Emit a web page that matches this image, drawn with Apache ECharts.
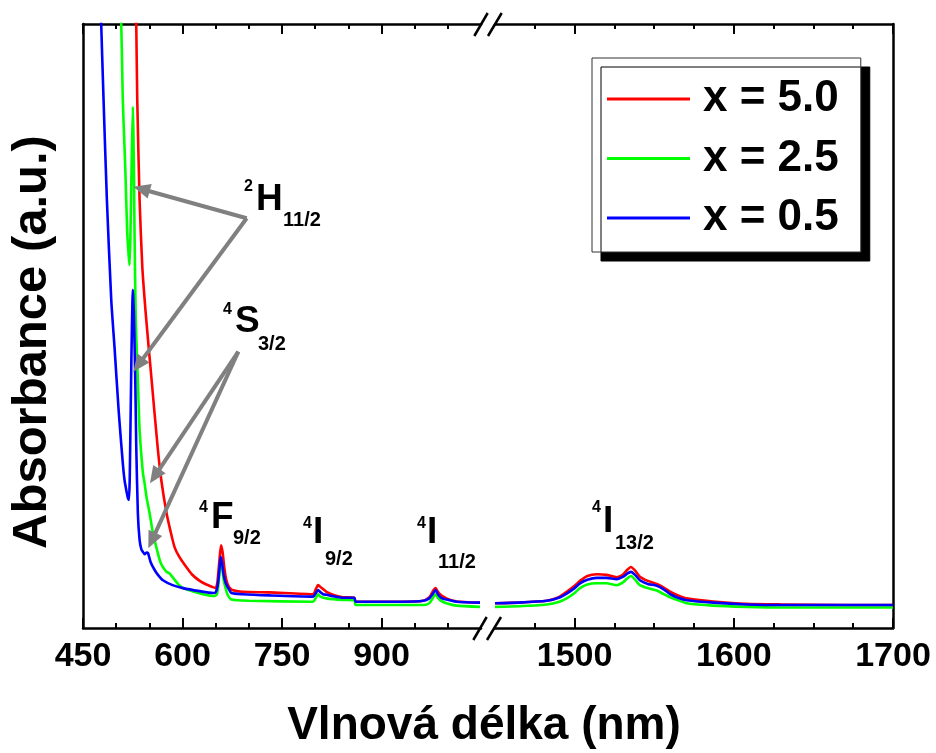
<!DOCTYPE html>
<html><head><meta charset="utf-8">
<script src="https://cdn.jsdelivr.net/npm/echarts@6/dist/echarts.min.js"></script>
<style>html,body{margin:0;padding:0;background:#fff}#c{width:936px;height:753px}</style>
</head><body><div id="c"></div>
<script>
// ---------------- DATA ----------------
const seriesNames = ['x = 5.0', 'x = 2.5', 'x = 0.5'];

// visible segment (450–1050 nm)
const redVisNm = [528,530.3,531.8,535.3,539.4,545.4,553.4,562.5,568,576,582,588,595,603,614,626,636,645,650,652.5,655.5,658,660.5,663,666,670,675,690,731.5,797,800.5,804.4,809,817,830,842,859,861,932,963,973,978,981.6,985,990,998,1013,1048.5];
const redVisAbs = [112,99.8,87.4,70.9,59.8,51.0,41.1,30.0,24.5,19.0,16.0,13.4,11.8,10.5,8.9,7.8,7.2,6.8,6.6,7.5,11.0,13.7,12.5,10.0,8.0,6.8,6.3,6.0,5.9,5.6,6.3,7.1,6.7,6.0,5.4,5.1,5.0,4.35,4.35,4.5,5.2,6.2,6.6,6.0,5.4,4.9,4.4,4.2];

const greenVisNm = [503,507.7,510,513.7,516.7,519,520.2,521.5,523.5,525.2,526,526.7,527.7,529.5,531,532.7,535.3,540.3,542.8,546,550.4,555,560.5,567,575,580.6,595.7,605.8,630.8,648.5,652,654.5,657.5,659.5,662,665,668,673.7,700,797,800.5,804.4,808,817,842,859,861,963,972,977,981.6,985,990,998,1013,1048.5];
const greenVisAbs = [110,99.8,87.4,76.3,65.4,61.5,60.1,65,78,86.3,82,76.3,65.4,51,46,41.1,32.8,25.7,24.0,21.5,19.0,16.0,13.4,10.8,9.4,9.0,7.0,6.4,5.6,5.3,5.6,7.5,11.3,10.3,8.0,6.6,5.5,4.7,4.5,4.35,4.9,5.6,5.2,4.9,4.65,4.6,3.8,3.8,4.1,4.9,5.6,5.0,4.5,4.1,3.7,3.5];

const blueVisNm = [475,477.5,481,486,492.6,497.5,504,510,512.6,516,518,519.3,520.5,523,524.5,525.2,526,526.7,528.8,530.3,532.7,535.3,538,540.3,543,545.5,548,552,558,563,570.5,585,600.6,625.8,646,650,653,655.5,657.5,659.5,662,665,669,673.7,690,731.5,797,800.5,804.4,808,812,817,830,842,859,861,932,963,972,977,981.6,985,990,998,1013,1048.5];
const blueVisAbs = [110,99.8,87.4,70.9,54.3,46.5,35.6,27.3,24.5,22.4,21.4,21.2,25,45,54,56.0,54,52.2,41.1,30.0,19.0,14.6,13.0,12.6,12.2,12.5,12.4,10.9,9.6,8.8,7.9,7.1,6.6,6.1,5.8,5.9,7.0,9.5,11.8,10.8,8.8,7.5,6.6,5.8,5.6,5.4,5.2,5.7,6.3,5.9,5.6,5.5,5.2,5.0,5.0,4.35,4.35,4.5,4.9,5.6,6.3,5.6,5.0,4.7,4.35,4.2];

// infrared segment (1450–1700 nm)
const irNm = [1450,1465,1482.5,1490,1495,1500,1503.4,1508,1513.9,1520,1526.4,1530.6,1533,1535.4,1538,1541,1546,1551.6,1556,1560,1565,1570.4,1587,1608,1630,1671,1700];
const redIrAbs   = [4.1,4.2,4.5,5.1,6.0,7.0,7.8,8.6,8.9,8.8,8.4,8.9,9.6,10.1,9.5,8.5,7.8,7.3,6.7,6.0,5.4,4.9,4.4,4.0,3.9,3.8,3.8];
const greenIrAbs = [3.5,3.6,3.9,4.3,4.9,5.8,6.6,7.2,7.4,7.4,7.1,7.6,8.2,8.6,8.0,7.1,6.6,6.2,5.6,5.1,4.6,4.1,3.7,3.5,3.4,3.4,3.4];
const blueIrAbs  = [4.1,4.2,4.5,5.0,5.7,6.6,7.4,8.0,8.3,8.3,8.1,8.5,9.0,9.3,8.8,7.9,7.3,7.0,6.4,5.6,5.0,4.6,4.2,3.9,3.8,3.8,3.8];

// ticks
const visMinorTicks = [450,500,550,600,650,700,750,800,850,900,950,1000];
const visMajorTicks = [450,600,750,900];
const irMinorTicks  = [1475,1500,1525,1550,1575,1600,1625,1650,1675,1700];
const irMajorTicks  = [1500,1600,1700];

// ---------------- STYLE ----------------
const FONT = '"Liberation Sans", Arial, Helvetica, sans-serif';
const COLORS = ['#ff0000', '#00ff00', '#0000ff'];
const AXW = 2.5;
const GREY = '#808080';

const zip = (a, b) => a.map((v, i) => [v, b[i]]);

function xAxesFor(gridIndex, min, max, minor, major) {
  const base = {gridIndex, type: 'value', min, max, splitLine: {show: false}};
  const line = {show: true, onZero: false, lineStyle: {color: '#000', width: AXW}};
  return [
    Object.assign({}, base, {position: 'bottom', axisLine: line,
      axisTick: {show: true, inside: true, length: 5, customValues: minor, lineStyle: {color: '#000', width: 2}},
      axisLabel: {show: false}}),
    Object.assign({}, base, {position: 'bottom', axisLine: {show: false, onZero: false},
      axisTick: {show: true, inside: true, length: 10, customValues: major, lineStyle: {color: '#000', width: 2}},
      axisLabel: {show: true, customValues: major, margin: 12, fontSize: 34, fontWeight: 'bold', fontFamily: FONT, color: '#000',
        formatter: v => String(v)}}),
    Object.assign({}, base, {position: 'top', axisLine: line,
      axisTick: {show: true, inside: true, length: 5, customValues: minor, lineStyle: {color: '#000', width: 2}},
      axisLabel: {show: false}}),
    Object.assign({}, base, {position: 'top', axisLine: {show: false, onZero: false},
      axisTick: {show: true, inside: true, length: 10, customValues: major, lineStyle: {color: '#000', width: 2}},
      axisLabel: {show: false}})
  ];
}

function yAxisFor(gridIndex, position) {
  return {gridIndex, type: 'value', min: 0, max: 100, position,
    axisLine: {show: true, onZero: false, lineStyle: {color: '#000', width: AXW}},
    axisTick: {show: false}, axisLabel: {show: false}, splitLine: {show: false}};
}

function lineSeries(name, color, xAxisIndex, yAxisIndex, data) {
  return {name, type: 'line', xAxisIndex, yAxisIndex, data, symbol: 'none', showSymbol: false,
    smooth: 0.2, clip: true, lineStyle: {color, width: 2.6}, itemStyle: {color}, emphasis: {disabled: true}};
}

function arrow(x1, y1, x2, y2) {
  const dx = x2 - x1, dy = y2 - y1, L = Math.hypot(dx, dy), ux = dx / L, uy = dy / L;
  const hl = 17, hw = 7.5;
  const bx = x2 - ux * hl, by = y2 - uy * hl;
  return [
    {type: 'line', z: 20, shape: {x1, y1, x2: bx + ux * 3, y2: by + uy * 3}, style: {stroke: GREY, lineWidth: 4}},
    {type: 'polygon', z: 20, shape: {points: [[x2, y2], [bx - uy * hw, by + ux * hw], [bx + uy * hw, by - ux * hw]]}, style: {fill: GREY}}
  ];
}
function txt(s, x, y, fs) {
  return {type: 'text', z: 21, x, y, style: {text: s, fontSize: fs, fontWeight: 'bold', fontFamily: FONT, fill: '#000', align: 'left', verticalAlign: 'middle'}};
}
function slash(x1, y1, x2, y2) {
  return {type: 'line', z: 20, shape: {x1, y1, x2, y2}, style: {stroke: '#000', lineWidth: 2.5}};
}

const graphics = [].concat(
  arrow(246.7, 218.3, 133.3, 186.7),
  arrow(246.7, 218.3, 133.3, 371.7),
  arrow(238.3, 351.7, 150, 483.3),
  arrow(238.3, 351.7, 148.3, 548.3),
  [txt('2', 244, 186.5, 16), txt('H', 256, 200, 37), txt('11/2', 283, 220.5, 20)],
  [txt('4', 223, 310, 16), txt('S', 235, 322, 37), txt('3/2', 258, 344.5, 20)],
  [txt('4', 199, 507.5, 16), txt('F', 211, 517.5, 37), txt('9/2', 233, 538, 20)],
  [txt('4', 303, 524, 16), txt('I', 313, 532.5, 37), txt('9/2', 325, 559.5, 20)],
  [txt('4', 417, 524, 16), txt('I', 427, 532.5, 37), txt('11/2', 438, 562.5, 20)],
  [txt('4', 592, 507.5, 16), txt('I', 603, 521.5, 37), txt('13/2', 615, 543.5, 20)],
  [slash(474.3, 36, 487.7, 13), slash(488, 36, 501.7, 13),
   slash(473.3, 640, 486.7, 617), slash(487, 640, 501, 617)],
  [{type: 'text', z: 21, x: 484, y: 726, style: {text: 'Vlnová délka (nm)', fontSize: 46, fontWeight: 'bold', fontFamily: FONT, fill: '#000', align: 'center', verticalAlign: 'middle'}},
   {type: 'text', z: 21, x: 32.5, y: 342, rotation: Math.PI / 2, style: {text: 'Absorbance (a.u.)', fontSize: 49, fontWeight: 'bold', fontFamily: FONT, fill: '#000', align: 'center', verticalAlign: 'middle'}}]
);

const chart = echarts.init(document.getElementById('c'), null, {renderer: 'canvas'});
chart.setOption({
  animation: false,
  backgroundColor: '#fff',
  grid: [
    {left: 83, top: 24, width: 398, height: 604},
    {left: 495, top: 24, width: 398, height: 604}
  ],
  xAxis: [].concat(
    xAxesFor(0, 450, 1050, visMinorTicks, visMajorTicks),
    xAxesFor(1, 1450, 1700, irMinorTicks, irMajorTicks)
  ),
  yAxis: [yAxisFor(0, 'left'), yAxisFor(1, 'right')],
  legend: {
    data: seriesNames, orient: 'vertical', left: 592, top: 58,
    padding: [17, 22, 10, 15], itemGap: 11.5, itemWidth: 83, itemHeight: 3, icon: 'rect',
    backgroundColor: '#fff', borderColor: '#333', borderWidth: 1,
    shadowColor: '#000', shadowBlur: 0, shadowOffsetX: 9, shadowOffsetY: 9,
    selectedMode: false,
    textStyle: {fontSize: 44, fontWeight: 'bold', fontFamily: FONT, color: '#000', lineHeight: 48, padding: [0, 0, 0, 8]}
  },
  series: [
    lineSeries(seriesNames[0], COLORS[0], 0, 0, zip(redVisNm, redVisAbs)),
    lineSeries(seriesNames[1], COLORS[1], 0, 0, zip(greenVisNm, greenVisAbs)),
    lineSeries(seriesNames[2], COLORS[2], 0, 0, zip(blueVisNm, blueVisAbs)),
    lineSeries(seriesNames[0], COLORS[0], 4, 1, zip(irNm, redIrAbs)),
    lineSeries(seriesNames[1], COLORS[1], 4, 1, zip(irNm, greenIrAbs)),
    lineSeries(seriesNames[2], COLORS[2], 4, 1, zip(irNm, blueIrAbs))
  ],
  graphic: graphics
});
</script></body></html>
